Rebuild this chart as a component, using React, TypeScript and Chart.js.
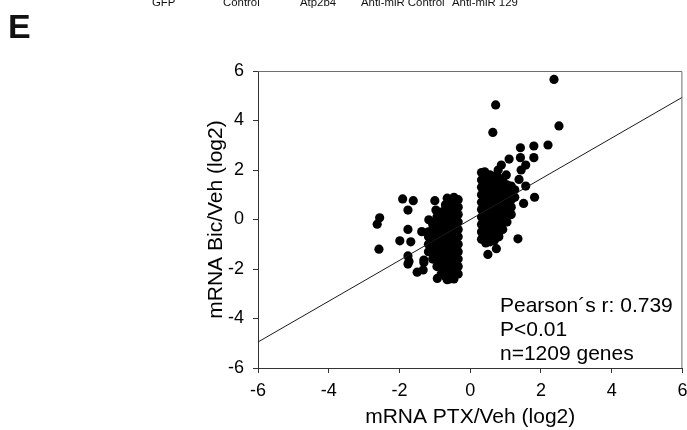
import React, { useEffect, useRef } from "react";
import { Chart, registerables } from "chart.js";

Chart.register(...registerables);

// ---- data ----
const xTicks = [-6, -4, -2, 0, 2, 4, 6];
const yTicks = [-6, -4, -2, 0, 2, 4, 6];
const xTitle = "mRNA PTX/Veh (log2)";
const yTitle = "mRNA Bic/Veh (log2)";
const panelLetter = "E";
const topLabels = ["GFP", "Control", "Atp2b4", "Anti-miR Control", "Anti-miR 129"];
const statsLines = ["Pearson\u00b4s r: 0.739", "P<0.01", "n=1209 genes"];

// regression line end points [PTX, Bic]
const fitLine: [number, number][] = [
  [-6, -4.95],
  [6, 4.94],
];

// scattered genes around the up-regulated group [PTX, Bic]
const rightOutliers: [number, number][] = [
  [2.37, 5.66], [2.51, 3.78], [2.2, 3.01], [1.8, 2.97], [1.42, 2.9], [1.42, 2.5],
  [1.8, 2.5], [1.1, 2.44], [0.72, 4.63], [0.64, 3.52], [1.57, 2.2], [1.44, 2.0],
  [0.88, 2.2], [0.79, 2.0], [0.41, 1.93], [1.02, 1.8], [1.38, 1.62], [1.57, 1.35],
  [1.82, 0.9], [1.51, 0.65], [1.35, -0.78], [0.81, -0.7], [0.74, -1.18], [0.5, -1.41],
  [0.5, -0.79], [1.21, 1.19],
];

// dense up-regulated group [PTX, Bic]
const rightCore: [number, number][] = [
  [0.32, -0.8], [0.32, -0.5], [0.32, -0.2], [0.32, 0.1], [0.32, 0.4], [0.32, 0.7], [0.32, 1.0], [0.32, 1.3], [0.32, 1.6], [0.32, 1.9],
  [0.44, -0.95], [0.44, -0.65], [0.44, -0.35], [0.44, -0.05], [0.44, 0.25], [0.44, 0.55], [0.44, 0.85], [0.44, 1.15], [0.44, 1.45], [0.44, 1.75],
  [0.56, -0.9], [0.56, -0.6], [0.56, -0.3], [0.56, 0.0], [0.56, 0.3], [0.56, 0.6], [0.56, 0.9], [0.56, 1.2], [0.56, 1.5], [0.56, 1.8],
  [0.68, -0.85], [0.68, -0.55], [0.68, -0.25], [0.68, 0.05], [0.68, 0.35], [0.68, 0.65], [0.68, 0.95], [0.68, 1.25], [0.68, 1.55], [0.68, 1.75],
  [0.8, -0.6], [0.8, -0.3], [0.8, 0.0], [0.8, 0.3], [0.8, 0.6], [0.8, 0.9], [0.8, 1.2], [0.8, 1.5], [0.8, 1.7],
  [0.92, -0.4], [0.92, -0.1], [0.92, 0.2], [0.92, 0.5], [0.92, 0.8], [0.92, 1.1], [0.92, 1.4], [0.92, 1.6],
  [1.04, -0.1], [1.04, 0.2], [1.04, 0.5], [1.04, 0.8], [1.04, 1.1], [1.04, 1.4],
  [1.16, 0.2], [1.16, 0.5], [1.16, 0.8], [1.16, 1.1], [1.16, 1.35],
  [1.26, 0.9], [1.26, 1.2],
];

// scattered genes around the down-regulated group [PTX, Bic]
const leftOutliers: [number, number][] = [
  [-2.56, 0.07], [-2.63, -0.19], [-2.58, -1.2], [-1.91, 0.83], [-1.61, 0.76], [-1.76, 0.38],
  [-1.76, -0.4], [-1.99, -0.86], [-1.68, -0.9], [-1.76, -1.47], [-1.73, -1.7], [-1.76, -1.8],
  [-1.0, 0.76], [-0.65, 0.86], [-0.97, 0.38], [-1.17, -0.01], [-1.37, -0.49], [-1.31, -1.64],
  [-1.31, -1.74], [-1.5, -2.13], [-0.93, -2.38], [-0.65, -2.43], [-1.33, -2.04],
];

// dense down-regulated group [PTX, Bic]
const leftCore: [number, number][] = [
  [-0.34, -2.2], [-0.34, -1.9], [-0.34, -1.6], [-0.34, -1.3], [-0.34, -1.0], [-0.34, -0.7], [-0.34, -0.4], [-0.34, -0.1], [-0.34, 0.2], [-0.34, 0.5], [-0.34, 0.8],
  [-0.46, -2.4], [-0.46, -2.1], [-0.46, -1.8], [-0.46, -1.5], [-0.46, -1.2], [-0.46, -0.9], [-0.46, -0.6], [-0.46, -0.3], [-0.46, 0.0], [-0.46, 0.3], [-0.46, 0.6], [-0.46, 0.9],
  [-0.58, -2.4], [-0.58, -2.1], [-0.58, -1.8], [-0.58, -1.5], [-0.58, -1.2], [-0.58, -0.9], [-0.58, -0.6], [-0.58, -0.3], [-0.58, 0.0], [-0.58, 0.3], [-0.58, 0.6], [-0.58, 0.8],
  [-0.7, -2.3], [-0.7, -2.0], [-0.7, -1.7], [-0.7, -1.4], [-0.7, -1.1], [-0.7, -0.8], [-0.7, -0.5], [-0.7, -0.2], [-0.7, 0.1], [-0.7, 0.4], [-0.7, 0.6],
  [-0.82, -2.2], [-0.82, -1.9], [-0.82, -1.6], [-0.82, -1.3], [-0.82, -1.0], [-0.82, -0.7], [-0.82, -0.4], [-0.82, -0.1], [-0.82, 0.2], [-0.82, 0.3],
  [-0.94, -1.9], [-0.94, -1.6], [-0.94, -1.3], [-0.94, -1.0], [-0.94, -0.7], [-0.94, -0.4], [-0.94, -0.1], [-0.94, 0.1],
  [-1.06, -1.6], [-1.06, -1.3], [-1.06, -1.0], [-1.06, -0.7], [-1.06, -0.4], [-1.06, -0.2],
  [-1.18, -1.3], [-1.18, -1.0], [-1.18, -0.7], [-1.18, -0.5],
];

const FONT = "'Liberation Sans', Arial, Helvetica, sans-serif";

const toXY = (pts: [number, number][]) => pts.map(([x, y]) => ({ x, y }));

const framePlugin = {
  id: "frameBox",
  afterDatasetsDraw(chart: any) {
    const { ctx, chartArea } = chart;
    const { left, top, right, bottom } = chartArea;
    ctx.save();
    ctx.strokeStyle = "#6e6e6e";
    ctx.lineWidth = 1;
    ctx.beginPath();
    ctx.moveTo(left, top + 0.5);
    ctx.lineTo(right - 0.5, top + 0.5);
    ctx.lineTo(right - 0.5, bottom);
    ctx.stroke();
    ctx.restore();
  },
};

export default function App() {
  const canvasRef = useRef<HTMLCanvasElement | null>(null);

  useEffect(() => {
    if (!canvasRef.current) return;
    const pointStyle = {
      pointRadius: 4.6,
      pointBackgroundColor: "#000",
      pointBorderWidth: 0,
      showLine: false,
    };
    const chart = new Chart(canvasRef.current, {
      type: "scatter",
      data: {
        datasets: [
          {
            type: "line",
            label: "fit",
            data: toXY(fitLine),
            borderColor: "#1a1a1a",
            borderWidth: 1,
            pointRadius: 0,
            fill: false,
          } as any,
          { label: "left outliers", data: toXY(leftOutliers), ...pointStyle },
          { label: "left core", data: toXY(leftCore), ...pointStyle },
          { label: "right outliers", data: toXY(rightOutliers), ...pointStyle },
          { label: "right core", data: toXY(rightCore), ...pointStyle },
        ],
      },
      options: {
        responsive: false,
        animation: false,
        events: [],
        layout: { padding: { left: 200, top: 71, right: 4, bottom: 0 } },
        plugins: {
          legend: { display: false },
          tooltip: { enabled: false },
          title: { display: false },
        },
        scales: {
          x: {
            type: "linear",
            min: xTicks[0],
            max: xTicks[xTicks.length - 1],
            afterBuildTicks: (s: any) => {
              s.ticks = xTicks.map((v) => ({ value: v }));
            },
            afterFit: (s: any) => {
              s.height = 62;
              s.paddingRight = 0;
            },
            grid: {
              drawOnChartArea: false,
              drawTicks: true,
              tickLength: 5,
              color: "#333",
            },
            border: { display: true, color: "#333" },
            ticks: {
              color: "#000",
              padding: 7,
              maxRotation: 0,
              font: { family: FONT, size: 18 },
            },
            title: {
              display: true,
              text: xTitle,
              color: "#000",
              padding: { top: 0, bottom: 0 },
              font: { family: FONT, size: 21 },
            },
          },
          y: {
            type: "linear",
            min: yTicks[0],
            max: yTicks[yTicks.length - 1],
            afterBuildTicks: (s: any) => {
              s.ticks = yTicks.map((v) => ({ value: v }));
            },
            afterFit: (s: any) => {
              s.width = 58;
            },
            grid: {
              drawOnChartArea: false,
              drawTicks: true,
              tickLength: 5,
              color: "#333",
            },
            border: { display: true, color: "#333" },
            ticks: {
              color: "#000",
              padding: 9,
              font: { family: FONT, size: 18 },
            },
            title: {
              display: true,
              text: yTitle,
              color: "#000",
              padding: { top: 4, bottom: 4 },
              font: { family: FONT, size: 21 },
            },
          },
        },
      },
      plugins: [framePlugin],
    } as any);
    return () => chart.destroy();
  }, []);

  const topLabelLeft = [152, 223, 300, 361, 452];

  return (
    <div
      style={{
        position: "absolute",
        left: 0,
        top: 0,
        width: 687,
        height: 430,
        overflow: "hidden",
        background: "#fff",
        fontFamily: FONT,
      }}
    >
      <canvas ref={canvasRef} width={687} height={430} style={{ position: "absolute", left: 0, top: 0 }} />
      {topLabels.map((t, i) => (
        <div
          key={t}
          style={{
            position: "absolute",
            left: topLabelLeft[i],
            top: -2.8,
            fontSize: 11.4,
            lineHeight: "11.4px",
            whiteSpace: "nowrap",
            color: "#111",
          }}
        >
          {t}
        </div>
      ))}
      <div
        style={{
          position: "absolute",
          left: 8,
          top: 9,
          fontSize: 34,
          lineHeight: "34px",
          fontWeight: "bold",
          color: "#111",
        }}
      >
        {panelLetter}
      </div>
      <div
        style={{
          position: "absolute",
          left: 500,
          top: 293.4,
          fontSize: 21,
          lineHeight: "23.6px",
          whiteSpace: "nowrap",
          color: "#000",
        }}
      >
        {statsLines.map((l) => (
          <div key={l}>{l}</div>
        ))}
      </div>
    </div>
  );
}
